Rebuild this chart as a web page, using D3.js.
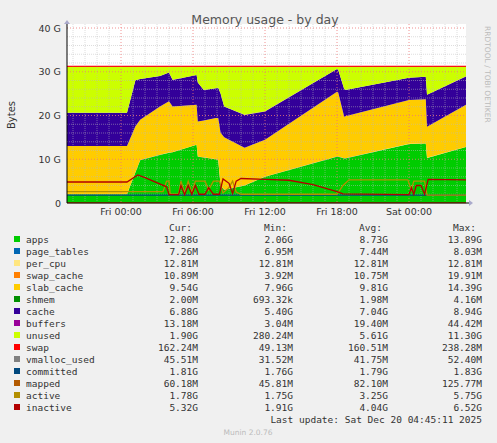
<!DOCTYPE html>
<html><head><meta charset="utf-8">
<script src="https://cdn.jsdelivr.net/npm/d3@7"></script>
<style>body{margin:0;background:#F0F0F0}svg{display:block}</style>
</head><body><svg id="c" width="497" height="443"></svg>
<script>
// hours relative to Fri 00:00
const times = [-4.5,0.5,1.2,1.6,3.25,4.0,4.3,6.3,6.4,6.9,7.9,8.1,8.3,8.6,10.3,12,18,18.1,18.6,18.7,24,25.4,25.5,28.75];
const apps  = [2.0,2.0,7,9.8,11,11.5,11.6,13.3,10.6,10.4,10,9.8,4,3,4,6,10.6,10.6,10.2,10.2,13.5,13.6,10.3,12.8];
const slab  = [11,11,10.5,9.2,11,11.7,10.4,9.1,8,8.4,9.4,9.6,12,12,8.6,8.4,14.8,14.6,9.5,9.6,10,10.1,7.1,9.6];
const cache = [7.6,7.6,10.5,9.3,7,6.6,6.1,6.8,8.9,7,6.8,6.9,9,7,7.5,6.5,5.2,5.2,6.3,6,5.1,5.1,7.3,6.5];
const unused= [10.45,10.45,3.05,2.75,2.05,1.25,2.95,1.85,3.55,5.25,4.85,4.75,6.05,9.05,10.95,10.15,0.45,0.65,5.05,5.25,2.45,2.25,6.35,2.15];
const pageTables=0.007, perCpu=0.0128, swapCache=0.011, shmem=0.002, buffers=0.019, swap=0.16, vmalloc=0.042;
const inactive=[[-4.5,4.8],[0.5,4.8],[1.4,6.4],[2,5.8],[3.8,3.7],[4.0,1.9],[4.8,1.9],[5.0,4],[5.3,1.9],[5.6,4],[5.9,2],[6.2,4],[6.5,2],[7.0,2],[7.3,3.5],[7.7,2],[8.2,2],[8.5,5.5],[9.0,4.5],[9.3,2.2],[9.6,5],[10.0,5.6],[12,5.4],[14,5.2],[16,4.2],[18,2.6],[18.5,2.1],[24,1.9],[24.2,3.5],[24.4,2],[24.6,4],[25.0,4],[25.3,2],[25.6,5.4],[28.75,5.3]];
const active=[[-4.5,2.6],[3.5,2.6],[3.8,5],[4.0,5],[4.1,2],[4.8,2],[5.0,5],[5.3,2.3],[5.6,5],[5.9,2.3],[6.2,5],[7.0,5],[7.3,3],[7.7,5],[8.2,5],[8.5,2.3],[9.0,3.5],[9.3,5],[9.6,2.5],[10.0,2],[18,2],[18.5,4],[19,5.3],[23.9,5.3],[24.2,3],[24.4,5],[25.3,5],[25.5,1.8],[28.75,1.8]];
const committed=[[-4.5,1.8],[28.75,1.8]];
const mapped=[[-4.5,0.08],[28.75,0.08]];
const yTicks=[0,10,20,30,40];
const xTicks=[[0,"Fri 00:00"],[6,"Fri 06:00"],[12,"Fri 12:00"],[18,"Fri 18:00"],[24,"Sat 00:00"]];
const legend=[
["apps","#00CC00","12.88G","2.06G","8.73G","13.89G"],
["page_tables","#0066B3","7.26M","6.95M","7.44M","8.03M"],
["per_cpu","#FFE680","12.81M","12.81M","12.81M","12.81M"],
["swap_cache","#FF8000","10.89M","3.92M","10.75M","19.91M"],
["slab_cache","#FFCC00","9.54G","7.96G","9.81G","14.39G"],
["shmem","#008F00","2.00M","693.32k","1.98M","4.16M"],
["cache","#330099","6.88G","5.40G","7.04G","8.94G"],
["buffers","#990099","13.18M","3.04M","19.40M","44.42M"],
["unused","#CCFF00","1.90G","280.24M","5.61G","11.30G"],
["swap","#FF0000","162.24M","49.13M","160.51M","238.28M"],
["vmalloc_used","#808080","45.51M","31.52M","41.75M","52.40M"],
["committed","#00487D","1.81G","1.76G","1.79G","1.83G"],
["mapped","#B35A00","60.18M","45.81M","82.10M","125.77M"],
["active","#B38F00","1.78G","1.75G","3.25G","5.75G"],
["inactive","#B30000","5.32G","1.91G","4.04G","6.52G"]];

const svg=d3.select("#c");
const L=67,R=466,T=28,B=203;
const x=d3.scaleLinear().domain([-4.5,28.75]).range([L,R]);
const y=d3.scaleLinear().domain([0,40]).range([B,T]);
svg.append("rect").attr("x",L).attr("y",T-4).attr("width",R-L).attr("height",B-T+4).attr("fill","#fff");
// stack
const rows=times.map((t,i)=>({t,apps:apps[i],page_tables:pageTables,per_cpu:perCpu,swap_cache:swapCache,slab_cache:slab[i],shmem:shmem,cache:cache[i],buffers:buffers,unused:unused[i],swap:swap,vmalloc_used:vmalloc}));
const keys=["apps","page_tables","per_cpu","swap_cache","slab_cache","shmem","cache","buffers","unused","swap","vmalloc_used"];
const col=Object.fromEntries(legend.map(d=>[d[0],d[1]]));
const st=d3.stack().keys(keys)(rows);
const area=d3.area().x(d=>x(d.data.t)).y0(d=>y(d[0])).y1(d=>y(d[1]));
svg.append("g").selectAll("path").data(st).join("path").attr("d",area).attr("fill",d=>col[d.key]);
// grid (on top, like rrdtool)
const g=svg.append("g");
for(let v=2;v<=40;v+=2){ if(v%10) g.append("line").attr("x1",L).attr("x2",R).attr("y1",y(v)).attr("y2",y(v)).attr("stroke","#bbb").attr("stroke-dasharray","1,1").attr("stroke-width",0.5);}
for(let h=-4;h<=28;h++){ if(h%6) g.append("line").attr("x1",x(h)).attr("x2",x(h)).attr("y1",T-4).attr("y2",B).attr("stroke","#bbb").attr("stroke-dasharray","1,1").attr("stroke-width",0.5);}
yTicks.slice(1).forEach(v=>g.append("line").attr("x1",L).attr("x2",R).attr("y1",y(v)).attr("y2",y(v)).attr("stroke","#e77").attr("stroke-dasharray","1,2").attr("stroke-width",0.8));
xTicks.forEach(t=>g.append("line").attr("x1",x(t[0])).attr("x2",x(t[0])).attr("y1",T-4).attr("y2",B).attr("stroke","#e77").attr("stroke-dasharray","1,2").attr("stroke-width",0.8));
// swap top line
svg.append("path").datum(st[9]).attr("d",d3.line().x(d=>x(d.data.t)).y(d=>y(d[1]))).attr("fill","none").attr("stroke","#FF0000").attr("stroke-width",1.2);
const line=d3.line().x(d=>x(d[0])).y(d=>y(d[1]));
[[committed,"#00487D"],[mapped,"#B35A00"],[active,"#B38F00"],[inactive,"#B30000"]].forEach(([d,c])=>svg.append("path").datum(d).attr("d",line).attr("fill","none").attr("stroke",c).attr("stroke-width",1.3));
// axes
svg.append("line").attr("x1",L).attr("x2",R+5).attr("y1",B).attr("y2",B).attr("stroke","#000");
svg.append("line").attr("x1",L).attr("x2",L).attr("y1",B).attr("y2",T-6).attr("stroke","#000");
svg.append("path").attr("d",`M${R+3},${B-3}L${R+7},${B}L${R+3},${B+3}Z`).attr("fill","#aac");
svg.append("path").attr("d",`M${L-3},${T-4}L${L},${T-8}L${L+3},${T-4}Z`).attr("fill","#aac");
const ax=svg.append("g").attr("font-family","DejaVu Sans").attr("font-size",9.5).attr("fill","#333");
yTicks.forEach(v=>ax.append("text").attr("x",L-6).attr("y",y(v)+3.5).attr("text-anchor","end").text(v? v+" G":"0"));
xTicks.forEach(t=>ax.append("text").attr("x",x(t[0])).attr("y",B+12).attr("text-anchor","middle").text(t[1]));
svg.append("text").attr("x",265).attr("y",24).attr("text-anchor","middle").attr("font-family","DejaVu Sans").attr("font-size",12.5).attr("fill","#555").text("Memory usage - by day");
svg.append("text").attr("transform","translate(15,115) rotate(-90)").attr("text-anchor","middle").attr("font-family","DejaVu Sans").attr("font-size",10).attr("fill","#333").text("Bytes");
svg.append("text").attr("transform","translate(485,26) rotate(90)").attr("font-family","DejaVu Sans").attr("font-size",7.5).attr("fill","#bbb").text("RRDTOOL / TOBI OETIKER");
// legend
const lg=svg.append("g").attr("font-family","DejaVu Sans Mono").attr("font-size",9.5).attr("fill","#333");
const cx=[198,293,388,482];
["Cur:","Min:","Avg:","Max:"].forEach((h,i)=>lg.append("text").attr("x",cx[i]-6).attr("y",231).attr("text-anchor","end").text(h));
legend.forEach((d,i)=>{const yy=243+i*12;
 lg.append("rect").attr("x",14).attr("y",yy-7).attr("width",6).attr("height",6).attr("fill",d[1]);
 lg.append("text").attr("x",26).attr("y",yy).text(d[0]);
 for(let k=0;k<4;k++) lg.append("text").attr("x",cx[k]).attr("y",yy).attr("text-anchor","end").text(d[k+2]);});
lg.append("text").attr("x",482).attr("y",423).attr("text-anchor","end").text("Last update: Sat Dec 20 04:45:11 2025");
svg.append("text").attr("x",248).attr("y",435).attr("text-anchor","middle").attr("font-family","DejaVu Sans").attr("font-size",7.5).attr("fill","#bbb").text("Munin 2.0.76");
</script></body></html>
